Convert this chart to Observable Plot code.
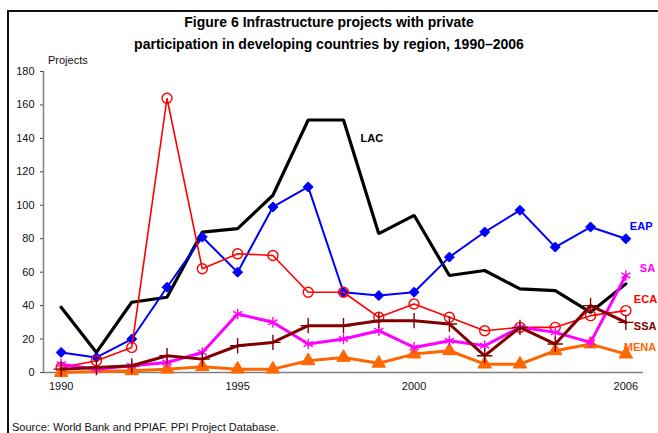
<!DOCTYPE html>
<html>
<head>
<meta charset="utf-8">
<script src="https://cdn.jsdelivr.net/npm/d3@7"></script>
<script src="https://cdn.jsdelivr.net/npm/@observablehq/plot@0.6"></script>
<style>
  body { margin: 0; background: #fff; font-family: "Liberation Sans", Arial, sans-serif; }
  #page { position: relative; width: 658px; height: 433px; overflow: hidden; }
  #title { position: absolute; left: 0; top: 11px; width: 658px; text-align: center; font-weight: bold; font-size: 14px; line-height: 22px; color: #000; }
  #ylab { position: absolute; left: 48px; top: 54px; font-size: 11px; color: #111; }
  #chart { position: absolute; left: 0; top: 55px; }
  #caption { position: absolute; left: 12px; top: 421px; font-size: 11px; color: #111; white-space: nowrap; }
  #frame { position: absolute; left: 7px; top: 10px; width: 700px; height: 500px; border-left: 2px solid #111; border-top: 2px solid #111; pointer-events: none; }
</style>
</head>
<body>
<div id="page">
  <div id="title">Figure 6 Infrastructure projects with private<br>participation in developing countries by region, 1990–2006</div>
  <div id="ylab">Projects</div>
  <div id="chart"></div>
  <div id="caption">Source: World Bank and PPIAF. PPI Project Database.</div>
  <div id="frame"></div>
</div>
<script>
const years = [1990,1991,1992,1993,1994,1995,1996,1997,1998,1999,2000,2001,2002,2003,2004,2005,2006];
const lac  = [39,12,42,45,84,86,106,151,151,83,94,58,61,50,49,36,53];
const eap  = [12,9,20,51,81,60,99,111,48,46,48,69,84,97,75,87,80];
const eca  = [3,7,15,164,62,71,70,48,48,33,41,33,25,27,27,34,37];
const sa   = [5,2,4,6,12,35,30,17,20,25,15,19,16,27,24,18,58];
const ssa  = [2,3,4,10,8,16,18,28,28,31,31,29,10,27,17,40,30];
const mena = [0,null,1,2,3.5,2,2,7,9,5.5,11,13,5,5,13,17,11];
const yTicks = [0,20,40,60,80,100,120,140,160,180];
const xTicks = [1990,1995,2000,2006];

const series = [
  {name:"LAC",  values:lac,  color:"#000000", width:3.2, symbol:null},
  {name:"EAP",  values:eap,  color:"#0000FF", width:2,   symbol:"diamond2", r:4.5, filled:true},
  {name:"ECA",  values:eca,  color:"#FF0000", width:1.6, symbol:"circle", r:5, filled:false},
  {name:"MENA", values:mena, color:"#FF6600", width:3,   symbol:"triangle", r:5, filled:true},
  {name:"SA",   values:sa,   color:"#FF00FF", width:3,   symbol:"asterisk", r:5, filled:false},
  {name:"SSA",  values:ssa,  color:"#800000", width:3,   symbol:"plus", r:5, filled:false}
];
// label offsets (pixels) relative to an anchor point of each series
const labelStyle = {
  LAC:  {at:1998, dx:17, dy:18},
  EAP:  {at:2006, dx:4,  dy:-12},
  SA:   {at:2006, dx:14, dy:-7},
  ECA:  {at:2006, dx:8,  dy:-11},
  SSA:  {at:2006, dx:8,  dy:4},
  MENA: {at:2006, dx:-2, dy:-7}
};

const marks = [];
marks.push(Plot.ruleX([years[0] - 0.5], {stroke:"#808080", strokeWidth:1.5}));
marks.push(Plot.axisY(yTicks, {tickSize:3, tickPadding:6, fontSize:11, label:null, stroke:"#444", fill:"#111"}));
marks.push(Plot.axisX(xTicks, {tickSize:0, tickPadding:10, fontSize:11, label:null, fill:"#111", tickFormat:d => String(d)}));
marks.push(Plot.ruleY([0], {stroke:"#808080", strokeWidth:1.5}));

for (const s of series) {
  const rows = years.map((y,i) => ({region:s.name, year:y, value:s.values[i]})).filter(d => d.value != null);
  marks.push(Plot.line(rows, {x:"year", y:"value", stroke:s.color, strokeWidth:s.width, strokeLinejoin:"miter", curve:"linear"}));
  if (s.symbol) {
    marks.push(Plot.dot(rows, {
      x:"year", y:"value", symbol:s.symbol, r:s.r,
      fill: s.filled ? s.color : "none",
      stroke: s.color,
      strokeWidth: s.filled ? 1 : 1.4
    }));
  }
}
for (const s of series) {
  const ls = labelStyle[s.name];
  const rows = years.map((y,i) => ({year:y, value:s.values[i]})).filter(d => d.year === ls.at);
  marks.push(Plot.text(rows, {x:"year", y:"value", text:() => s.name, dx:ls.dx, dy:ls.dy,
    textAnchor:"start", fontWeight:"bold", fontSize:11, fill:s.color}));
}

const chart = Plot.plot({
  width: 658,
  height: 350,
  marginLeft: 43,
  marginRight: 15,
  marginTop: 16,
  marginBottom: 33,
  style: {background:"transparent", fontFamily:"Liberation Sans, Arial, sans-serif", fontSize:"11px", overflow:"visible"},
  x: {type:"linear", domain:[years[0] - 0.5, years[years.length-1] + 0.5]},
  y: {domain:[0, 180]},
  marks
});
document.getElementById("chart").appendChild(chart);
</script>
</body>
</html>
